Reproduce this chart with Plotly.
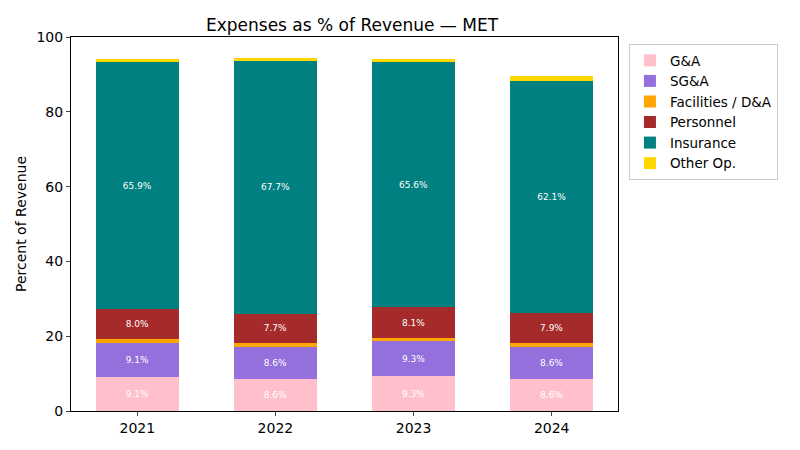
import plotly.graph_objects as go

years = ["2021", "2022", "2023", "2024"]
categories = ["G&A", "SG&A", "Facilities / D&A", "Personnel", "Insurance", "Other Op."]
colors = ["#FFC0CB", "#9370DB", "#FFA500", "#A52A2A", "#008080", "#FFD700"]

ga = [9.1, 8.6, 9.3, 8.6]
sga = [9.1, 8.6, 9.3, 8.6]
facilities = [1.1, 1.1, 1.0, 1.1]
personnel = [8.0, 7.7, 8.1, 7.9]
insurance = [65.9, 67.7, 65.6, 62.1]
other_op = [0.9, 0.8, 0.8, 1.2]

series = [ga, sga, facilities, personnel, insurance, other_op]

fig = go.Figure()
for name, vals, col in zip(categories, series, colors):
    labels = [f"{v:.1f}%" if v >= 3 else "" for v in vals]
    fig.add_trace(go.Bar(
        x=years, y=vals, name=name, marker_color=col, marker_line_width=0,
        width=0.6, text=labels, textposition="inside", insidetextanchor="middle",
        textangle=0, textfont=dict(color="white", size=9),
    ))

# page body has an 8px margin, so the plot area is offset by that
fig.update_layout(
    barmode="stack",
    width=800, height=450,
    font=dict(family="DejaVu Sans", color="black", size=14),
    title=dict(text="Expenses as % of Revenue — MET", x=0.43, xanchor="center",
               y=0.962, yanchor="middle", font=dict(size=17)),
    plot_bgcolor="white", paper_bgcolor="white",
    margin=dict(l=63, r=190, t=29, b=47),
    showlegend=True,
    legend=dict(x=1.02, y=0.981, xanchor="left", yanchor="top", traceorder="normal",
                bordercolor="#CCCCCC", borderwidth=1, font=dict(size=13.5),
                itemwidth=30, tracegroupgap=0),
    uniformtext=dict(minsize=9, mode="show"),
)
fig.update_xaxes(type="category", range=[-0.48, 3.48], showline=True, linecolor="black",
                 mirror=True, ticks="outside", ticklen=4, showgrid=False)
fig.update_yaxes(range=[0, 100], dtick=20, showline=True, linecolor="black", mirror=True,
                 ticks="outside", ticklen=4, showgrid=False, zeroline=False,
                 title=dict(text="Percent of Revenue", font=dict(size=14), standoff=6))

fig.write_html("out.html")
